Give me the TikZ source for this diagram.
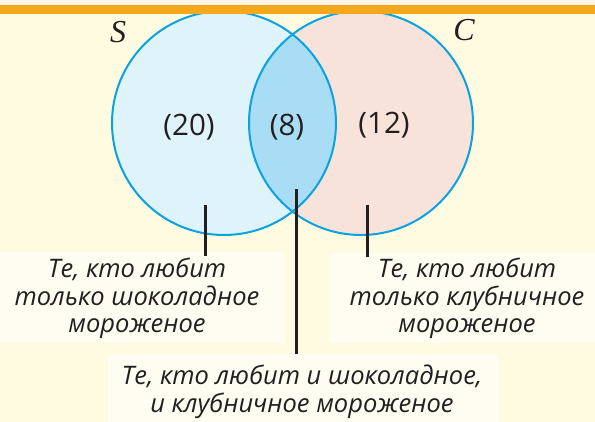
\documentclass[tikz,border=0pt]{standalone}
\usepackage{fontspec}
\setmainfont{Open Sans}
\newfontfamily\setletter{Liberation Serif}
\usetikzlibrary{positioning}
\definecolor{ink}      {HTML}{231F20}
\definecolor{paper}    {HTML}{FFFBE1}
\definecolor{panel}    {HTML}{FFFDF1}
\definecolor{topband}  {HTML}{FDF5E6}
\definecolor{orangebar}{HTML}{F5A81C}
\definecolor{rim}      {HTML}{0AA3DF}
\definecolor{choco}    {HTML}{DFF3FB}
\definecolor{straw}    {HTML}{F8E3DB}
\definecolor{both}     {HTML}{A9DDF6}
\tikzset{
  % --- regions
  setc/.style     = {circle, minimum size=224pt, inner sep=0pt, outer sep=0pt},
  ring/.style     = {draw=rim, line width=2pt},
  panelbox/.style = {fill=panel, inner sep=0pt, outer sep=0pt},
  % --- texts
  count/.style    = {font=\fontsize{29.5}{33}\selectfont, text=ink},
  setname/.style  = {font=\setletter\itshape\fontsize{32}{36}\selectfont, text=ink},
  caption/.style  = {font=\itshape\fontsize{25.5}{27.5}\selectfont, text=ink,
                     align=center, inner sep=0pt, anchor=base},
  % --- pointers
  pin/.style      = {draw=ink, line width=3pt},
}
\begin{document}
\begin{tikzpicture}[x=1pt,y=-1pt]
  \useasboundingbox (0,0) rectangle (595,422);
  \fill[paper] (0,0) rectangle (595,422);
  % panels behind the captions
  \node[panelbox, minimum width=285pt, minimum height=91pt] (lpanel) at (142.5,297.5) {};
  \node[panelbox, minimum width=265pt, minimum height=90pt] (rpanel) at (462.5,298) {};
  \node[panelbox, minimum width=391pt, minimum height=68pt] (bpanel) at (303.5,388) {};
  % the two sets
  \node[setc, fill=choco] (S) at (224,123) {};
  \node[setc, fill=straw] (C) at (361,123) {};
  \begin{scope}
    \clip (S.center) circle (112pt);
    \fill[both] (C.center) circle (112pt);
  \end{scope}
  \draw[ring] (S.center) circle (112pt);
  \draw[ring] (C.center) circle (112pt);
  % top band
  \fill[topband] (0,0) rectangle (595,5);
  \fill[orangebar] (0,5) rectangle (595,14);
  \node[setname] (Sname) at (118,32) {S};
  \node[setname] (Cname) at (464,30) {C};
  \node[count] (nS)  at (189,127) {(20)};
  \node[count] (nSC) at (287,127) {(8)};
  \node[count] (nC)  at (384,125) {(12)};
  % captions (anchored on their last line)
  \node[caption] (lcap) at (137,333)
    {Те, кто любит\\только шоколадное\\мороженое};
  \node[caption] (rcap) at (467,333)
    {Те, кто любит\\только клубничное\\мороженое};
  \node[caption] (bcap) at (302,412)
    {Те, кто любит и шоколадное,\\и клубничное мороженое};
  % pointers
  \coordinate (lpin) at (205,205);
  \coordinate (mpin) at (296,189);
  \coordinate (rpin) at (367,205);
  \draw[pin] (lpin) -- ([yshift=-4pt]lpin |- lpanel.north);
  \draw[pin] (mpin) -- (mpin |- bpanel.north);
  \draw[pin] (rpin) -- ([yshift=-4pt]rpin |- rpanel.north);
\end{tikzpicture}
\end{document}
